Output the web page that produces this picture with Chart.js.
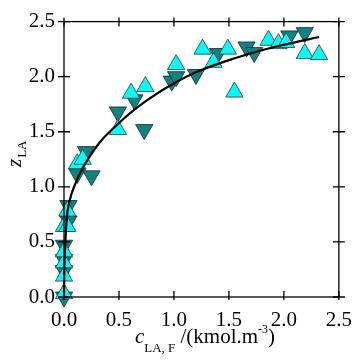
<!DOCTYPE html>
<html><head><meta charset="utf-8">
<script src="https://cdn.jsdelivr.net/npm/chart.js@4.4.1/dist/chart.umd.min.js"></script>
<style>html,body{margin:0;padding:0;background:#fff}</style>
</head><body>
<div id="wrap" style="width:363px;height:364px"><canvas id="c" width="363" height="364"></canvas></div>
<script>
// Series
const upX   = [0.00,0.00,0.00,0.00,0.00,0.03,0.03,0.12,0.17,0.49,0.61,0.74,1.02,1.26,1.36,1.49,1.55,1.86,1.95,2.02,2.19,2.32];
const upY   = [0.03,0.19,0.31,0.41,0.64,0.64,0.78,1.21,1.25,1.52,1.85,1.91,2.11,2.25,2.13,2.25,1.86,2.33,2.30,2.31,2.21,2.20];
const downX = [0.00,0.00,0.00,0.00,0.04,0.04,0.12,0.20,0.25,0.49,0.64,0.73,0.98,1.02,1.20,1.40,1.66,1.73,2.05,2.19];
const downY = [0.00,0.24,0.34,0.47,0.69,0.83,1.12,1.32,1.10,1.68,1.79,1.52,1.96,2.00,2.02,2.21,2.27,2.22,2.37,2.40];
const fitX  = [0,0.003,0.01,0.026,0.05,0.1,0.17,0.23,0.33,0.49,0.64,0.76,1.0,1.2,1.5,1.8,2.0,2.32];
const fitY  = [0,0.25,0.45,0.72,0.87,1.02,1.17,1.27,1.41,1.57,1.70,1.79,1.94,2.04,2.15,2.24,2.29,2.36];
const tickVals = [0,0.5,1.0,1.5,2.0,2.5];

const pts = (xs, ys) => xs.map((x, i) => ({x: x, y: ys[i]}));
const SERIF = 'Liberation Serif';

const frame = {
  id: 'frame',
  afterDatasetsDraw(chart) {
    const {ctx, chartArea: a, scales} = chart;
    ctx.save();
    ctx.strokeStyle = '#000';
    ctx.lineWidth = 1.3;
    ctx.strokeRect(a.left, a.top, a.right - a.left, a.bottom - a.top);
    const L = 6;
    ctx.beginPath();
    tickVals.forEach(v => {
      const px = scales.x.getPixelForValue(v);
      const py = scales.y.getPixelForValue(v);
      ctx.moveTo(px, a.bottom - L); ctx.lineTo(px, a.bottom + 3);
      ctx.moveTo(px, a.top - 4); ctx.lineTo(px, a.top + 5);
      ctx.moveTo(a.left - L, py); ctx.lineTo(a.left + L, py);
      ctx.moveTo(a.right - L, py); ctx.lineTo(a.right + L, py);
    });
    ctx.stroke();

    ctx.fillStyle = '#000';
    ctx.textBaseline = 'alphabetic';
    // X title
    const parts = [
      {t: 'c', f: 'italic 21px ' + SERIF, dy: 0},
      {t: 'LA, F', f: '13px ' + SERIF, dy: 9},
      {t: ' /(kmol.m', f: '21px ' + SERIF, dy: 0},
      {t: '-3', f: '12px ' + SERIF, dy: -10},
      {t: ')', f: '21px ' + SERIF, dy: 0}
    ];
    let total = 0;
    parts.forEach(p => { ctx.font = p.f; p.w = ctx.measureText(p.t).width; total += p.w; });
    let x = 205 - total / 2;
    const base = 343;
    parts.forEach(p => { ctx.font = p.f; ctx.fillText(p.t, x, base + p.dy); x += p.w; });
    // Y title
    ctx.save();
    ctx.translate(21, 167);
    ctx.rotate(-Math.PI / 2);
    ctx.font = 'italic 21px ' + SERIF;
    const zw = ctx.measureText('z').width;
    ctx.fillText('z', 0, 0);
    ctx.font = '13px ' + SERIF;
    ctx.fillText('LA', zw + 1, 5);
    ctx.restore();
    ctx.restore();
  }
};

new Chart(document.getElementById('c'), {
  type: 'scatter',
  data: {
    datasets: [
      {
        type: 'line', data: pts(fitX, fitY), borderColor: '#000', borderWidth: 2.2,
        pointRadius: 0, fill: false, cubicInterpolationMode: 'monotone', order: 0, clip: false
      },
      {
        data: pts(upX, upY), pointStyle: 'triangle', pointRadius: 10, pointRotation: 0,
        backgroundColor: '#0CF7F7', borderColor: '#2a3a3a', borderWidth: 0.8, order: 1, clip: false
      },
      {
        data: pts(downX, downY), pointStyle: 'triangle', pointRadius: 10, pointRotation: 180,
        backgroundColor: '#108282', borderColor: '#1a2a2a', borderWidth: 0.8, order: 2, clip: false
      }
    ]
  },
  options: {
    responsive: false, animation: false,
    layout: {padding: {left: 0, right: 15, top: 10, bottom: 0}},
    plugins: {legend: {display: false}, tooltip: {enabled: false}},
    scales: {
      x: {
        type: 'linear', min: 0, max: 2.5,
        grid: {display: false, drawTicks: false}, border: {display: false},
        afterBuildTicks: s => { s.ticks = tickVals.map(v => ({value: v})); },
        afterFit: s => { s.height = 67; },
        ticks: {padding: 11, color: '#000', font: {family: SERIF, size: 21}, maxRotation: 0,
                callback: v => Number(v).toFixed(1)}
      },
      y: {
        type: 'linear', min: 0, max: 2.5,
        grid: {display: false, drawTicks: false}, border: {display: false},
        afterBuildTicks: s => { s.ticks = tickVals.map(v => ({value: v})); },
        afterFit: s => { s.width = 64; },
        ticks: {padding: 9, color: '#000', font: {family: SERIF, size: 21},
                callback: v => Number(v).toFixed(1)}
      }
    }
  },
  plugins: [frame]
});
</script></body></html>
